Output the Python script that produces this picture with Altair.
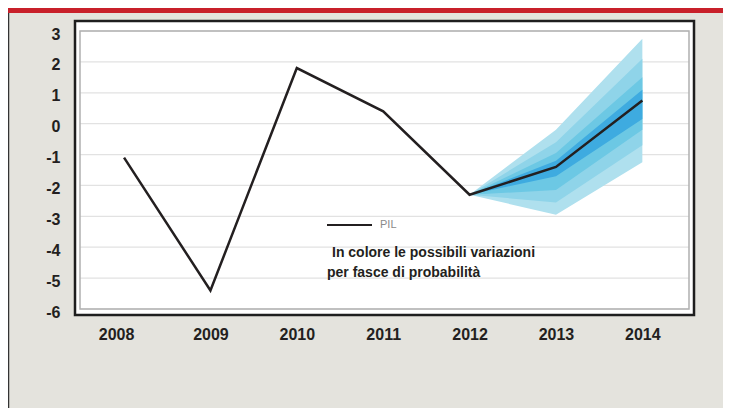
import altair as alt
import pandas as pd

# ---- data ----
years = [2008, 2009, 2010, 2011, 2012, 2013, 2014]
pil = [-1.1, -5.4, 1.8, 0.4, -2.3, -1.4, 0.75]

fan_years = [2012, 2013, 2014]
fan_outer_low = [-2.3, -2.95, -1.25]
fan_outer_high = [-2.3, -0.2, 2.75]
fan_mid_low = [-2.3, -2.55, -0.7]
fan_mid_high = [-2.3, -0.6, 2.1]
fan_inner_low = [-2.3, -2.15, -0.2]
fan_inner_high = [-2.3, -0.95, 1.5]
fan_core_low = [-2.3, -1.7, 0.15]
fan_core_high = [-2.3, -1.2, 1.1]

y_ticks = [-6, -5, -4, -3, -2, -1, 0, 1, 2, 3]
legend_label = ["PIL"]
notes = ["In colore le possibili variazioni", "per fasce di probabilità"]

W, H = 609, 278
FONT = "Liberation Sans"
DARK = "#231f20"

line_df = pd.DataFrame({"anno": years, "pil": pil})
band_defs = [
    ("outer", fan_outer_low, fan_outer_high, "#afe0ee"),
    ("mid", fan_mid_low, fan_mid_high, "#8fd4e9"),
    ("inner", fan_inner_low, fan_inner_high, "#6cc8e4"),
    ("core", fan_core_low, fan_core_high, "#3eabe0"),
]
one = pd.DataFrame({"k": [0]})

xscale = alt.Scale(domain=[2007.49, 2014.54], nice=False, zero=False)
yscale = alt.Scale(domain=[-6, 3], nice=False, zero=False)

xaxis = alt.Axis(values=years, format="d", labelFont=FONT, labelFontSize=16,
                 labelFontWeight="bold", labelColor=DARK, labelPadding=17,
                 ticks=False, domain=False, grid=False, labelFlush=False,
                 title=None,
                 labelOffset={"condition": {"test": "datum.value == 2008", "value": -8}, "value": 0})
yaxis = alt.Axis(values=y_ticks, labelExpr="'' + datum.value", labelFont=FONT,
                 labelFontSize=16, labelFontWeight="bold", labelColor=DARK,
                 labelPadding=20, ticks=False, domain=False, grid=False,
                 labelOffset=3, title=None)

# decorations (pixel positions)
red_bar = alt.Chart(one).mark_rect(color="#c8202a").encode(
    x=alt.value(-72), x2=alt.value(W + 34), y=alt.value(-23), y2=alt.value(-18))
left_line = alt.Chart(one).mark_rule(color="#333333", strokeWidth=1.5).encode(
    x=alt.value(-71.5), y=alt.value(-18), y2=alt.value(H + 99))
outer_frame = alt.Chart(one).mark_rect(
    fill="white", stroke="#1e1e1e", strokeWidth=2.5).encode(
    x=alt.value(-5), x2=alt.value(W + 5), y=alt.value(-10), y2=alt.value(H + 6))
inner_frame = alt.Chart(one).mark_rect(
    fill=None, stroke="#b0b0b0", strokeWidth=1.5).encode(
    x=alt.value(0), x2=alt.value(W), y=alt.value(0), y2=alt.value(H))

grid = alt.Chart(pd.DataFrame({"v": y_ticks})).mark_rule(
    color="#e2e2e2", strokeWidth=1.2).encode(
    y=alt.Y("v:Q", scale=yscale, axis=yaxis),
    x=alt.value(0), x2=alt.value(W))

bands = []
for name, lo, hi, col in band_defs:
    df = pd.DataFrame({"anno": fan_years, "lo": lo, "hi": hi})
    bands.append(alt.Chart(df).mark_area(color=col, opacity=1).encode(
        x=alt.X("anno:Q", scale=xscale, axis=xaxis),
        y=alt.Y("lo:Q", scale=yscale, axis=yaxis),
        y2="hi:Q"))

line = alt.Chart(line_df).mark_line(color=DARK, strokeWidth=2.5).encode(
    x=alt.X("anno:Q", scale=xscale, axis=xaxis),
    y=alt.Y("pil:Q", scale=yscale, axis=yaxis))

leg_line = alt.Chart(one).mark_rule(color=DARK, strokeWidth=2).encode(
    x=alt.value(247), x2=alt.value(292), y=alt.value(194))
leg_text = alt.Chart(pd.DataFrame({"t": legend_label})).mark_text(
    align="left", baseline="middle", font=FONT, fontSize=11, color="#8a8a8a").encode(
    x=alt.value(300), y=alt.value(194), text="t:N")
note1 = alt.Chart(pd.DataFrame({"t": notes[:1]})).mark_text(
    align="left", baseline="alphabetic", font=FONT, fontSize=14,
    fontWeight="bold", color=DARK).encode(
    x=alt.value(252), y=alt.value(226), text="t:N")
note2 = alt.Chart(pd.DataFrame({"t": notes[1:]})).mark_text(
    align="left", baseline="alphabetic", font=FONT, fontSize=14,
    fontWeight="bold", color=DARK).encode(
    x=alt.value(247), y=alt.value(246), text="t:N")

chart = alt.layer(
    red_bar, left_line, outer_frame, grid, *bands, inner_frame, line,
    leg_line, leg_text, note1, note2
).properties(
    width=W, height=H,
    autosize=alt.AutoSizeParams(type="none"),
    padding={"left": 72, "top": 23, "right": 34, "bottom": 99},
    background="#e4e3dd",
).configure_view(stroke=None)

chart.save("out.html", embed_options={"renderer": "svg", "actions": False})
